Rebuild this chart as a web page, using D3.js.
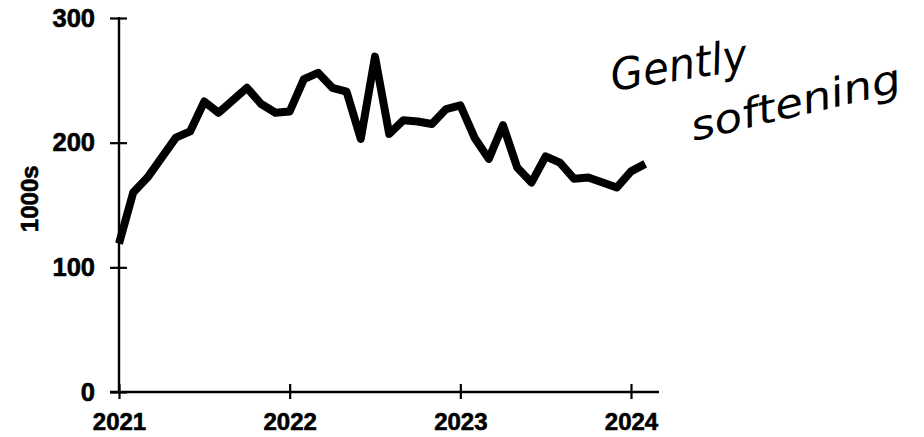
<!DOCTYPE html>
<html>
<head>
<meta charset="utf-8">
<script src="https://cdn.jsdelivr.net/npm/d3@7"></script>
<style>
  html, body { margin: 0; padding: 0; background: #fff; }
  svg { display: block; }
</style>
</head>
<body>
<svg id="chart" width="924" height="437"></svg>
<script>
// ---- data ----
const startYear = 2021;            // first observation: January 2021, monthly
const values = [
  119, 160, 172, 188, 204, 209, 233, 224, 234, 244, 231, 224,   // 2021
  225, 251, 256, 244, 241, 203, 269, 207, 218, 217, 215, 227,   // 2022
  230, 204, 187, 214, 180, 168, 189, 184, 171, 172, 168, 164,   // 2023
  177, 183                                                      // 2024
];
const xTickYears = [2021, 2022, 2023, 2024];
const yTickValues = [0, 100, 200, 300];
const yLabel = "1000s";
const noteLines = ["Gently", "softening"];

// ---- layout ----
const svg = d3.select("#chart");
const x = d3.scaleLinear().domain([2021, 2024]).range([119, 631]);
const y = d3.scaleLinear().domain([0, 300]).range([392, 18]);

const points = values.map((v, i) => ({ t: startYear + i / 12, v }));

const labelFont = "'Liberation Sans', Arial, Helvetica, sans-serif";

// y axis
const yAxis = d3.axisLeft(y).tickValues(yTickValues).tickSizeOuter(0).tickSize(0).tickPadding(24);
const gy = svg.append("g").attr("transform", `translate(${x(2021)},0)`).call(yAxis);
gy.select(".domain").remove();
gy.selectAll(".tick text")
  .attr("font-family", labelFont).attr("font-weight", "bold")
  .attr("font-size", 25.5).attr("fill", "#000")
  .attr("stroke", "#000").attr("stroke-width", 0.6);
gy.selectAll(".tick").append("line")
  .attr("x1", -9).attr("x2", 8).attr("stroke", "#000").attr("stroke-width", 2.2);
svg.append("line")
  .attr("x1", x(2021)).attr("x2", x(2021))
  .attr("y1", y(300) - 1).attr("y2", y(0))
  .attr("stroke", "#000").attr("stroke-width", 2.4);

// x axis
const xAxis = d3.axisBottom(x).tickValues(xTickYears).tickFormat(d3.format("d"))
  .tickSize(0).tickPadding(21);
const gx = svg.append("g").attr("transform", `translate(0,${y(0)})`).call(xAxis);
gx.select(".domain").remove();
gx.selectAll(".tick text")
  .attr("font-family", labelFont).attr("font-weight", "bold")
  .attr("font-size", 24).attr("fill", "#000")
  .attr("stroke", "#000").attr("stroke-width", 0.6);
gx.selectAll(".tick").append("line")
  .attr("y1", -8).attr("y2", 7).attr("stroke", "#000").attr("stroke-width", 2.2);
svg.append("line")
  .attr("x1", x(2021) - 9).attr("x2", 659)
  .attr("y1", y(0)).attr("y2", y(0))
  .attr("stroke", "#000").attr("stroke-width", 2.4);

// y label
svg.append("text")
  .attr("transform", `translate(38,${y(155)}) rotate(-90)`)
  .attr("text-anchor", "middle")
  .attr("font-family", labelFont).attr("font-weight", "bold")
  .attr("font-size", 24).attr("fill", "#000")
  .attr("stroke", "#000").attr("stroke-width", 0.6)
  .text(yLabel);

// line
const line = d3.line().x(d => x(d.t)).y(d => y(d.v));
svg.append("path")
  .datum(points)
  .attr("d", line)
  .attr("fill", "none")
  .attr("stroke", "#000")
  .attr("stroke-width", 8)
  .attr("stroke-linejoin", "round")
  .attr("stroke-linecap", "butt");

// handwritten note
const noteFont = "'DejaVu Sans', 'Noto Sans', sans-serif";
svg.append("text")
  .attr("transform", "translate(613,91) rotate(-9)")
  .attr("font-family", noteFont).attr("font-weight", 200).attr("font-style", "italic")
  .attr("font-size", 44).attr("textLength", 138).attr("lengthAdjust", "spacingAndGlyphs")
  .attr("fill", "#000")
  .text(noteLines[0]);
svg.append("text")
  .attr("transform", "translate(694,141) rotate(-13.5)")
  .attr("font-family", noteFont).attr("font-weight", 200).attr("font-style", "italic")
  .attr("font-size", 40).attr("textLength", 215).attr("lengthAdjust", "spacingAndGlyphs")
  .attr("fill", "#000")
  .text(noteLines[1]);
</script>
</body>
</html>
